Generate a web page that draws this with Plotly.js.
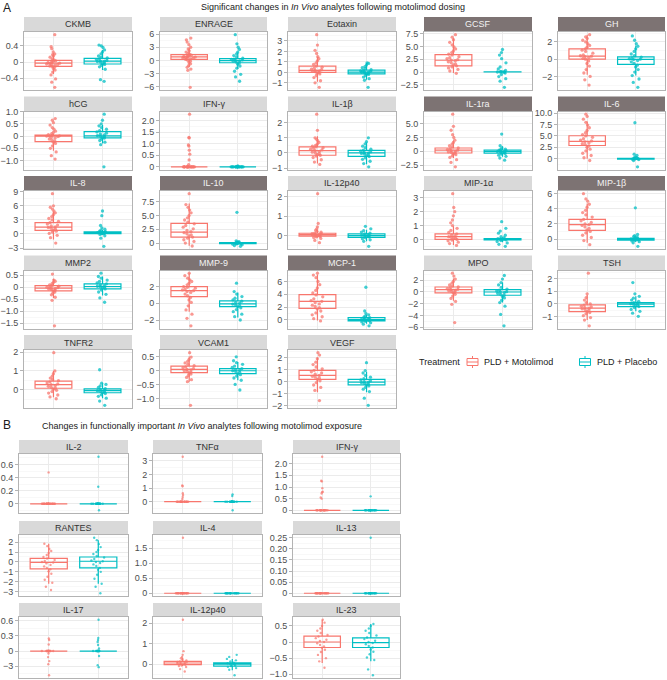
<!DOCTYPE html>
<html><head><meta charset="utf-8">
<script src="https://cdn.plot.ly/plotly-3.0.1.min.js"></script>
<style>html,body{margin:0;padding:0;background:#fff}#chart{width:667px;height:680px}</style>
</head><body><div id="chart"></div>
<script>
// ---------------- DATA ----------------
const groups = ["PLD + Motolimod", "PLD + Placebo"];

const analytesA = ["CKMB","ENRAGE","Eotaxin","GCSF","GH","hCG","IFN-γ","IL-1β","IL-1ra","IL-6","IL-8","IL-10","IL-12p40","MIP-1α","MIP-1β","MMP2","MMP-9","MCP-1","MPO","TSH","TNFR2","VCAM1","VEGF"];
const significantA = [0,0,0,1,1, 0,0,0,1,1, 1,1,0,0,1, 0,1,1,0,0, 0,0,0];
const tickStepA = [0.4,3,1,2.5,2, 0.5,0.5,1,2.5,2.5, 3,2.5,1,1,2, 0.5,2,2,2,1, 1,0.5,1];
const tickDecA  = [1,0,0,1,0, 1,1,0,1,1, 0,1,0,0,0, 1,0,0,0,0, 0,1,0];

// box statistics [lower whisker, q1, median, q3, upper whisker]
const motoStatsA = [
 [-0.3,-0.11,-0.03,0.04,0.22],[-1.5,0.2,0.8,1.3,2.9],[-0.9,0.0,0.2,0.6,1.5],[-0.2,1.2,2.3,3.4,6.6],[-1.8,0,0.35,1.2,2.85],
 [-0.6,-0.23,0,0.04,0.1],[0,0,0,0,0],[-0.7,-0.15,0.15,0.4,1.1],[-1.2,-0.3,0.2,0.6,1.9],[0,2.9,3.8,5.05,8.2],
 [-1.2,0.75,1.45,2.4,4.8],[-0.5,1.1,2.0,3.6,7.2],[-0.1,-0.03,0.05,0.12,0.3],[-0.4,0,0.2,0.4,0.95],[-0.5,1.15,1.9,2.6,4.7],
 [-0.45,-0.15,-0.04,0.07,0.35],[-1.0,0.8,1.5,2.0,3.6],[-0.1,1.8,2.9,3.95,7.1],[-1.5,-0.15,0.4,0.85,2.3],[-1.3,-0.62,-0.35,-0.08,0.7],
 [-0.4,0.08,0.27,0.46,1.0],[-0.4,-0.08,0.04,0.16,0.5],[-0.9,0.17,0.5,0.92,2.0]
];
const placeboStatsA = [
 [-0.2,-0.05,0.02,0.09,0.3],[-1.9,-0.55,-0.05,0.4,1.8],[-0.7,-0.15,0.03,0.22,0.9],[0,0,0,0.05,0.05],[-1.9,-0.6,-0.03,0.27,1.6],
 [-0.3,-0.07,0.01,0.18,0.45],[0,0,0,0,0],[-0.75,-0.22,0,0.17,0.7],[-1.0,-0.35,-0.05,0.2,0.9],[-0.25,-0.1,0,0.1,0.3],
 [-0.1,0.08,0.25,0.43,0.9],[-0.3,-0.1,-0.02,0.08,0.3],[-0.3,-0.09,0,0.09,0.3],[-0.2,-0.03,0.02,0.06,0.15],[-0.4,-0.15,0,0.1,0.45],
 [-0.35,-0.07,0.03,0.14,0.45],[-1.7,-0.4,-0.08,0.28,1.3],[-0.6,-0.15,0.05,0.35,0.8],[-1.8,-0.55,0,0.4,1.6],[-0.6,-0.22,-0.03,0.1,0.6],
 [-0.45,-0.16,-0.05,0.05,0.35],[-0.35,-0.11,-0.01,0.07,0.3],[-0.9,-0.29,-0.06,0.17,0.8]
];

const motoPointsA = [
 [0.68,0.38,0.33,0.25,0.2,0.18,0.15,0.12,0.08,0.05,0.03,0.02,0,-0.01,-0.02,-0.03,-0.04,-0.05,-0.06,-0.07,-0.08,-0.1,-0.11,-0.13,-0.16,-0.2,-0.25,-0.32,-0.42,-0.5,-0.63],
 [5.1,4.7,4.2,3.6,3.0,2.6,2.2,1.9,1.6,1.4,1.2,1.1,1.0,0.9,0.8,0.75,0.7,0.6,0.5,0.4,0.3,0.2,0.0,-0.2,-0.5,-0.8,-1.2,-1.6,-2.0,-2.3,-6.2],
 [3.6,2.6,2.1,1.8,1.5,1.3,1.1,0.9,0.75,0.6,0.5,0.4,0.3,0.25,0.2,0.15,0.1,0.05,0,-0.05,-0.15,-0.3,-0.5,-0.8,-1.0,-1.43],
 [7.3,6.8,6.3,5.8,5.3,4.9,4.5,4.1,3.8,3.5,3.3,3.0,2.8,2.6,2.4,2.3,2.2,2.0,1.8,1.6,1.4,1.2,1.0,0.8,0.5,0.2,-0.25],
 [2.85,2.6,2.4,2.2,2.0,1.8,1.6,1.4,1.2,1.05,0.9,0.7,0.5,0.4,0.35,0.3,0.2,0.1,0.0,-0.2,-0.5,-0.8,-1.2,-1.6,-2.0,-2.4,-3.0],
 [0.72,0.65,0.55,0.45,0.35,0.28,0.2,0.15,0.1,0.06,0.03,0.01,0,0,-0.02,-0.05,-0.08,-0.12,-0.16,-0.2,-0.25,-0.3,-0.4,-0.5,-0.65,-0.8,-0.94],
 [2.28,1.27,1.25,0.95,0.9,0.72,0.55,0.3,0.1,0,0,0,0,0,0,0,0,0,0,0,0,0,0,0,0,0,0],
 [2.57,1.5,1.0,0.9,0.8,0.7,0.6,0.5,0.45,0.4,0.35,0.3,0.25,0.2,0.15,0.1,0.05,0,-0.05,-0.1,-0.15,-0.2,-0.3,-0.45,-0.6,-0.76],
 [6.7,4.5,3.8,3.0,2.5,2.0,1.6,1.3,1.0,0.8,0.6,0.45,0.3,0.2,0.1,0,-0.1,-0.2,-0.3,-0.45,-0.6,-0.8,-1.1,-1.5,-2.0,-2.8],
 [9.8,9.3,8.7,8.0,7.4,6.8,6.2,5.7,5.3,5.0,4.7,4.4,4.1,3.9,3.7,3.5,3.3,3.1,2.8,2.5,2.1,1.7,1.2,0.7,0.2,-0.4],
 [8.6,6.0,5.7,5.3,4.9,4.5,4.1,3.7,3.3,3.0,2.7,2.4,2.1,1.9,1.7,1.5,1.4,1.2,1.0,0.8,0.6,0.4,0.1,-0.3,-0.8,-1.94],
 [9.0,7.0,6.5,6.0,5.5,5.0,4.6,4.2,3.8,3.5,3.2,2.9,2.6,2.3,2.1,1.9,1.7,1.5,1.3,1.1,0.9,0.6,0.3,0,-0.53],
 [2.17,0.63,0.45,0.35,0.28,0.22,0.17,0.13,0.1,0.08,0.06,0.05,0.04,0.02,0,-0.02,-0.04,-0.07,-0.1,-0.15,-0.25,-0.37],
 [3.3,2.3,2.0,1.7,1.4,1.2,1.0,0.8,0.65,0.5,0.4,0.3,0.25,0.2,0.15,0.1,0.05,0,-0.05,-0.1,-0.2,-0.3,-0.43],
 [6.0,5.3,5.0,4.6,4.2,3.8,3.5,3.2,2.9,2.6,2.4,2.2,2.0,1.9,1.8,1.6,1.4,1.2,1.0,0.8,0.5,0.2,-0.2,-0.75],
 [0.55,0.3,0.25,0.2,0.15,0.1,0.07,0.04,0.02,0,-0.02,-0.04,-0.06,-0.08,-0.1,-0.13,-0.16,-0.2,-0.25,-0.32,-0.42,-0.55,-1.62],
 [3.6,3.3,3.0,2.8,2.6,2.4,2.2,2.0,1.9,1.8,1.7,1.6,1.5,1.4,1.3,1.1,0.9,0.7,0.4,0.1,-0.3,-0.8,-1.3,-1.8,-2.7],
 [7.3,7.0,6.6,6.0,5.5,5.0,4.6,4.2,3.9,3.6,3.3,3.0,2.9,2.7,2.5,2.3,2.1,1.9,1.7,1.4,1.1,0.8,0.5,0.2,-0.15],
 [3.2,2.7,2.2,1.8,1.5,1.2,1.0,0.85,0.7,0.55,0.45,0.4,0.3,0.2,0.1,0,-0.15,-0.4,-0.7,-1.1,-1.6,-2.1,-5.2],
 [2.45,0.8,0.5,0.3,0.1,0,-0.1,-0.2,-0.25,-0.3,-0.35,-0.4,-0.45,-0.5,-0.6,-0.7,-0.8,-0.95,-1.1,-1.3,-1.76],
 [1.97,1.0,0.85,0.72,0.62,0.55,0.48,0.42,0.36,0.31,0.27,0.23,0.18,0.13,0.08,0.03,-0.03,-0.1,-0.18,-0.28,-0.38,-0.48],
 [0.64,0.48,0.4,0.33,0.27,0.22,0.17,0.13,0.1,0.07,0.04,0.02,0,-0.03,-0.06,-0.09,-0.13,-0.18,-0.25,-0.33,-0.4,-1.25],
 [2.4,2.2,1.9,1.6,1.4,1.2,1.05,0.92,0.8,0.7,0.6,0.5,0.42,0.35,0.27,0.17,0.05,-0.1,-0.3,-0.5,-0.75,-1.6]
];
const placeboPointsA = [
 [0.42,0.4,0.36,0.3,0.25,0.2,0.15,0.12,0.1,0.08,0.06,0.04,0.03,0.02,0.01,0,-0.02,-0.04,-0.06,-0.08,-0.12,-0.18,-0.44,-0.48],
 [5.9,3.8,3.0,2.5,1.9,1.5,1.1,0.8,0.5,0.3,0.2,0.1,0,-0.1,-0.2,-0.4,-0.6,-0.9,-1.3,-1.8,-2.5,-3.2,-3.8,-4.8],
 [0.9,0.85,0.7,0.55,0.45,0.35,0.25,0.2,0.15,0.1,0.05,0.02,0,-0.05,-0.1,-0.15,-0.2,-0.3,-0.45,-0.6,-0.75,-1.43],
 [4.4,3.8,3.3,2.6,1.8,1.0,0.6,0.3,0.1,0,0,0,0,0,-0.2,-0.5,-0.9,-1.3,-1.8,-3.0],
 [2.7,2.2,1.8,1.5,1.2,0.9,0.6,0.4,0.25,0.15,0.05,0,-0.05,-0.15,-0.3,-0.5,-0.7,-0.9,-1.2,-1.5,-1.9,-2.3,-2.7,-3.27],
 [0.9,0.65,0.5,0.42,0.35,0.28,0.22,0.17,0.12,0.08,0.05,0.02,0,-0.02,-0.05,-0.08,-0.12,-0.18,-0.25,-0.35,-1.26],
 [0.04,0,0,0,0,0,0,0,0,0,0,0,0,0,0,0,0,0,0,0],
 [1.0,0.75,0.6,0.45,0.35,0.25,0.18,0.12,0.07,0.03,0,-0.03,-0.07,-0.12,-0.18,-0.24,-0.32,-0.42,-0.55,-0.7,-0.92],
 [3.1,1.0,0.6,0.4,0.3,0.2,0.1,0.05,0,-0.05,-0.1,-0.2,-0.3,-0.4,-0.5,-0.7,-0.9,-1.2,-1.6],
 [7.9,1.0,0.7,0.4,0.2,0.1,0.05,0,0,0,-0.05,-0.1,-0.2,-0.4,-1.8],
 [4.9,3.9,1.8,1.3,1.0,0.8,0.6,0.5,0.4,0.35,0.3,0.25,0.2,0.15,0.1,0.05,-0.1,-0.4,-0.9,-2.65],
 [5.6,0.4,0.25,0.15,0.1,0.05,0,0,-0.05,-0.1,-0.15,-0.2,-0.3,-0.45,-0.6],
 [0.48,0.35,0.25,0.18,0.12,0.08,0.05,0.02,0,-0.02,-0.05,-0.08,-0.12,-0.17,-0.22,-0.3,-0.56],
 [1.28,0.8,0.6,0.45,0.3,0.2,0.12,0.06,0.03,0.02,0,-0.03,-0.08,-0.15,-0.25,-0.35,-0.5],
 [4.13,0.6,0.45,0.3,0.2,0.12,0.06,0.02,0,-0.03,-0.07,-0.12,-0.18,-0.25,-0.35,-0.5,-0.97],
 [0.59,0.45,0.38,0.3,0.24,0.18,0.14,0.1,0.07,0.04,0.02,0,-0.03,-0.07,-0.12,-0.2,-0.3,-0.45,-0.63],
 [2.4,1.4,1.1,0.8,0.6,0.4,0.25,0.1,0,-0.1,-0.2,-0.3,-0.4,-0.55,-0.75,-1.0,-1.3,-1.6,-2.0],
 [5.1,1.4,1.0,0.8,0.6,0.45,0.35,0.25,0.15,0.08,0.03,0,-0.05,-0.12,-0.2,-0.3,-0.45,-0.65,-0.92],
 [2.8,2.2,1.6,1.2,0.8,0.5,0.3,0.15,0.05,0,-0.1,-0.25,-0.4,-0.55,-0.75,-1.0,-1.4,-1.8,-2.4,-3.8,-5.75],
 [1.7,0.8,0.6,0.45,0.3,0.2,0.1,0.05,0,-0.05,-0.1,-0.15,-0.22,-0.3,-0.45,-0.6,-0.75,-1.0],
 [1.06,0.35,0.28,0.2,0.12,0.06,0.02,-0.02,-0.05,-0.08,-0.12,-0.16,-0.2,-0.27,-0.35,-0.45,-0.6,-0.83],
 [0.49,0.35,0.28,0.22,0.16,0.11,0.07,0.04,0.01,-0.01,-0.04,-0.07,-0.11,-0.15,-0.2,-0.27,-0.35,-0.5,-0.7],
 [1.56,0.9,0.7,0.5,0.35,0.22,0.12,0.04,-0.02,-0.06,-0.1,-0.16,-0.22,-0.29,-0.38,-0.5,-0.65,-0.85,-1.4,-2.0]
];

const analytesB = ["IL-2","TNFα","IFN-γ","RANTES","IL-4","IL-13","IL-17","IL-12p40","IL-23"];
const tickStepB = [0.2,1,0.5,1,0.5,0.05,0.3,1,0.5];
const tickDecB  = [1,0,1,0,1,2,1,0,1];
const tickLabelFixB = [null,null,null,null,null,null,{"−0.3":"−3"},null,null];
const motoStatsB = [
 [0,0,0,0,0],[0,0,0,0,0],[0,0,0,0,0],[-2.2,-0.7,-0.05,0.35,1.84],[0,0,0,0,0],[0,0,0,0,0],[0,0,0,0,0],[-0.1,-0.03,0.05,0.13,0.3],[-0.65,-0.17,0,0.18,0.69]
];
const placeboStatsB = [
 [0,0,0,0,0],[0,0,0,0,0],[0,0,0,0,0],[-2.2,-0.6,0.07,0.5,2.2],[0,0,0,0,0],[0,0,0,0,0],[0,0,0,0,0],[-0.3,-0.1,-0.01,0.06,0.25],[-0.6,-0.17,-0.02,0.13,0.56]
];
const motoPointsB = [
 [0.48,0,0,0,0,0,0,0,0,0,0,0,0,0,0,0,0,0,0,0,0,0,0],
 [3.3,1.2,1.13,0.62,0.5,0.35,0.2,0,0,0,0,0,0,0,0,0,0,0,0,0,0,0,0,0,0],
 [2.3,1.27,1.24,0.95,0.8,0.78,0.72,0.55,0.5,0,0,0,0,0,0,0,0,0,0,0,0,0,0,0,0],
 [1.84,1.6,1.3,1.1,0.9,0.7,0.5,0.35,0.2,0.1,0,-0.05,-0.15,-0.3,-0.45,-0.6,-0.75,-0.95,-1.2,-1.5,-1.8,-2.1,-2.5,-2.83],
 [1.85,0,0,0,0,0,0,0,0,0,0,0,0,0,0,0,0,0,0,0,0],
 [0,0,0,0,0,0,0,0,0,0,0,0,0,0,0,0,0,0,0,0],
 [0.25,0.22,0.13,-0.05,-0.12,-0.2,-0.26,-0.48,0,0,0,0,0,0,0,0,0,0,0,0,0,0],
 [2.17,0.63,0.45,0.35,0.28,0.22,0.17,0.13,0.1,0.08,0.06,0.05,0.04,0.02,0,-0.02,-0.04,-0.07,-0.1,-0.15,-0.25,-0.37],
 [0.69,0.6,0.5,0.42,0.35,0.28,0.22,0.17,0.12,0.07,0.03,0,-0.04,-0.09,-0.14,-0.18,-0.24,-0.31,-0.4,-0.5,-0.6,-0.8]
];
const placeboPointsB = [
 [0.72,0.26,-0.1,0,0,0,0,0,0,0,0,0,0,0,0,0,0,0,0,0,0],
 [0.54,0.42,-0.63,0,0,0,0,0,0,0,0,0,0,0,0,0,0,0,0,0,0],
 [0.6,0,0,0,0,0,0,0,0,0,0,0,0,0,0,0,0,0,0],
 [2.44,2.2,1.8,1.5,1.2,1.0,0.8,0.6,0.45,0.3,0.15,0.07,0,-0.1,-0.25,-0.4,-0.6,-0.8,-1.0,-1.3,-1.7,-2.2,-2.5,-3.16],
 [0,0,0,0,0,0,0,0,0,0,0,0,0,0,0,0,0,0],
 [0.25,0,0,0,0,0,0,0,0,0,0,0,0,0,0,0,0,0,0],
 [0.62,0.26,0.22,0.18,0.12,0.05,-0.1,-0.28,-0.32,0,0,0,0,0,0,0,0,0,0,0,0],
 [0.45,0.35,0.25,0.18,0.12,0.07,0.04,0.01,-0.01,-0.04,-0.07,-0.1,-0.14,-0.2,-0.28,-0.55],
 [0.56,0.5,0.42,0.35,0.28,0.2,0.14,0.09,0.04,0,-0.03,-0.07,-0.12,-0.17,-0.23,-0.3,-0.38,-0.48,-0.56,-0.85,-1.03]
];

// ---------------- DRAWING ----------------
const W = 667, H = 680;
const FONT = "Liberation Sans, Arial, Helvetica, sans-serif";
const RED = "#F8766D", TEAL = "#00BFC4";
const STRIP_LIGHT = "#d9d9d9", STRIP_DARK = "#7d7373";
const colsA = [[24,132],[160,267],[288,396],[424,532],[558,665]];
const colsB = [[19,128],[153,262],[293,400]];
const rowsB = [[440,454,513],[521,535,596],[603,617,678]];

const traces = [];
const layout = {
  width: W, height: H, margin: {l:0, r:0, t:0, b:0},
  paper_bgcolor: "#fff", plot_bgcolor: "#fff", showlegend: false, boxmode: "overlay",
  font: {family: FONT, size: 9, color: "#4d4d4d"},
  shapes: [], annotations: []
};
const px = x => x / W, py = y => 1 - y / H;

function addPanel(k, name, dark, step, dec, alias, ms, ps, mp, pp, x0, x1, sTop, pTop, pBot, ptSize, ptOp) {
  const s = k === 1 ? "" : String(k);
  const all = ms.concat(ps, mp, pp);
  const lo = Math.min(...all), hi = Math.max(...all), pad = (hi - lo) * 0.05;
  const aliasObj = Object.assign({}, {"0.0":"0","0.00":"0","−0":"0"}, alias || {});
  layout["xaxis" + s] = {
    domain: [px(x0), px(x1)], anchor: "y" + s, range: [0.4, 2.6], type: "linear",
    showticklabels: false, ticks: "", tickmode: "array", tickvals: [1, 2],
    showgrid: true, gridcolor: "#ebebeb", gridwidth: 1, zeroline: false,
    showline: true, mirror: true, linecolor: "#b3b3b3", linewidth: 1, fixedrange: true
  };
  layout["yaxis" + s] = {
    domain: [py(pBot), py(pTop)], anchor: "x" + s, range: [lo - pad, hi + pad],
    tickmode: "linear", tick0: 0, dtick: step, tickformat: "." + dec + "f", labelalias: aliasObj,
    ticks: "outside", ticklen: 3, tickwidth: 1, tickcolor: "#b3b3b3",
    tickfont: {family: FONT, size: 9, color: "#4d4d4d"},
    showgrid: true, gridcolor: "#ebebeb", gridwidth: 1,
    minor: {tick0: 0, dtick: step / 2, showgrid: true, gridcolor: "#f4f4f4", gridwidth: 0.6, ticks: ""},
    zeroline: false, showline: true, mirror: true, linecolor: "#b3b3b3", linewidth: 1, fixedrange: true
  };
  const xa = "x" + s, ya = "y" + s;
  [[mp, RED], [pp, TEAL]].forEach(([vals, col], gi) => {
    traces.push({
      type: "box", y: vals, x0: gi + 1, xaxis: xa, yaxis: ya, name: groups[gi],
      boxpoints: "all", jitter: 0.38, pointpos: 0, width: 0.75,
      line: {width: 0, color: "rgba(0,0,0,0)"}, fillcolor: "rgba(0,0,0,0)",
      marker: {color: col, size: ptSize, opacity: ptOp}, hoverinfo: "skip"
    });
  });
  [[ms, RED], [ps, TEAL]].forEach(([st, col], gi) => {
    traces.push({
      type: "box", x: [gi + 1], lowerfence: [st[0]], q1: [st[1]], median: [st[2]], q3: [st[3]], upperfence: [st[4]],
      xaxis: xa, yaxis: ya, name: groups[gi], boxpoints: false, width: 0.75, whiskerwidth: 0,
      line: {color: col, width: 1.2}, fillcolor: "rgba(255,255,255,0)", hoverinfo: "skip"
    });
  });
  layout.shapes.push({type: "rect", xref: "paper", yref: "paper", x0: px(x0), x1: px(x1), y0: py(pTop), y1: py(sTop),
    fillcolor: dark ? STRIP_DARK : STRIP_LIGHT, line: {width: 0}, layer: "below"});
  layout.annotations.push({xref: "paper", yref: "paper", x: px((x0 + x1) / 2), y: py((sTop + pTop) / 2),
    xanchor: "center", yanchor: "middle", showarrow: false, text: name,
    font: {family: FONT, size: 9, color: dark ? "#f2f2f2" : "#333333"}});
}

let k = 1;
analytesA.forEach((name, i) => {
  const r = Math.floor(i / 5), c = i % 5;
  const sTop = 17 + 79.5 * r, pTop = 32 + 79.5 * r, pBot = 90 + 79.5 * r;
  addPanel(k++, name, significantA[i], tickStepA[i], tickDecA[i], null,
    motoStatsA[i], placeboStatsA[i], motoPointsA[i], placeboPointsA[i],
    colsA[c][0], colsA[c][1], sTop, pTop, pBot, 3.3, 0.75);
});
analytesB.forEach((name, i) => {
  const r = Math.floor(i / 3), c = i % 3;
  addPanel(k++, name, 0, tickStepB[i], tickDecB[i], tickLabelFixB[i],
    motoStatsB[i], placeboStatsB[i], motoPointsB[i], placeboPointsB[i],
    colsB[c][0], colsB[c][1], rowsB[r][0], rowsB[r][1], rowsB[r][2], 2.4, 0.7);
});

// titles / section labels
const ann = (x, y, text, size, anchor) => layout.annotations.push({xref: "paper", yref: "paper", x: px(x), y: py(y),
  xanchor: anchor || "center", yanchor: "middle", showarrow: false, text: text, font: {family: FONT, size: size, color: "#1a1a1a"}});
ann(1, 8, "A", 12, "left");
ann(333, 7, "Significant changes in <i>In Vivo</i> analytes following motolimod dosing", 9);
ann(1, 425, "B", 12, "left");
ann(202, 426, "Changes in functionally important <i>In Vivo</i> analytes following motolimod exposure", 9);

// legend
ann(417, 362, "Treatment", 9, "left");
[[467, RED, 482], [579.5, TEAL, 595]].forEach(([lx, col, tx], gi) => {
  const w = 11, cx = lx + w / 2;
  layout.shapes.push({type: "rect", xref: "paper", yref: "paper", x0: px(lx), x1: px(lx + w), y0: py(365.5), y1: py(358.5), line: {color: col, width: 1}, fillcolor: "rgba(0,0,0,0)"});
  layout.shapes.push({type: "line", xref: "paper", yref: "paper", x0: px(lx), x1: px(lx + w), y0: py(362), y1: py(362), line: {color: col, width: 1}});
  layout.shapes.push({type: "line", xref: "paper", yref: "paper", x0: px(cx), x1: px(cx), y0: py(358.5), y1: py(356), line: {color: col, width: 1}});
  layout.shapes.push({type: "line", xref: "paper", yref: "paper", x0: px(cx), x1: px(cx), y0: py(365.5), y1: py(368), line: {color: col, width: 1}});
  ann(tx, 362, groups[gi], 9, "left");
});

Plotly.newPlot("chart", traces, layout, {staticPlot: true, displayModeBar: false});
</script>
</body></html>
